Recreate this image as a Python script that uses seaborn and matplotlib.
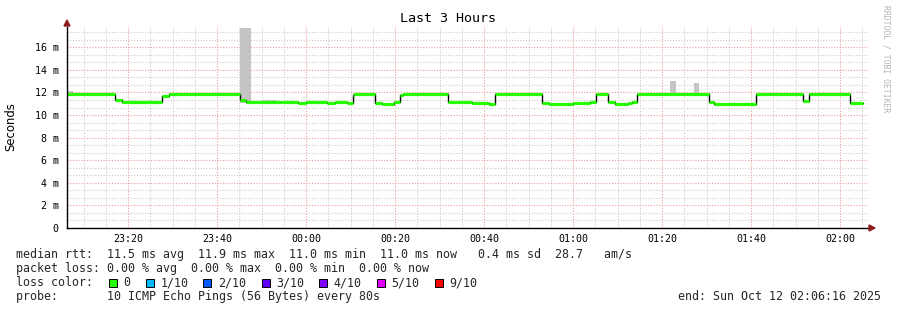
import numpy as np
import pandas as pd
import matplotlib
matplotlib.use("Agg")
import matplotlib.pyplot as plt
import seaborn as sns
from matplotlib.ticker import MultipleLocator, FixedLocator, FuncFormatter
from matplotlib.patches import Polygon, Rectangle

# ---------------- data ----------------
start_time = "2025-10-11 23:06:16"
end_time = "2025-10-12 02:06:16"

# median rtt steps: start minute (from start_time) and value (ms)
seg_start = [0.0, 10.8, 12.3, 20.0, 21.3, 23.0, 38.9, 40.3, 43.0, 45.2, 46.6, 47.9,
             50.6, 52.0, 53.6, 56.3, 58.5, 60.3, 63.0, 64.2, 64.6, 69.3, 70.8, 73.4,
             74.8, 75.5, 85.6, 88.0, 90.9, 94.8, 96.2, 96.8, 106.8, 108.3, 113.7, 117.6,
             118.9, 119.6, 121.6, 123.1, 126.0, 127.0, 128.2, 129.0, 144.2, 145.4, 154.9,
             156.4, 165.3, 166.8, 167.4, 176.0]
seg_value = [11.9, 11.33, 11.15, 11.12, 11.66, 11.9, 11.3, 11.12, 11.2, 11.14, 11.2, 11.16,
             11.12, 11.05, 11.2, 11.14, 11.05, 11.2, 11.1, 11.8, 11.9, 11.08, 11.0, 11.12,
             11.8, 11.9, 11.12, 11.17, 11.08, 11.0, 11.85, 11.9, 11.08, 11.01, 11.08, 11.12,
             11.85, 11.9, 11.17, 11.0, 11.04, 11.12, 11.85, 11.9, 11.17, 11.0, 11.85,
             11.9, 11.22, 11.85, 11.9, 11.05]
data_end = 178.8

# smoke (spread of pings) segments
smoke_t0 = [0.0, 18.0, 38.9, 44.0, 135.6, 140.8]
smoke_t1 = [1.4, 21.3, 41.3, 47.0, 136.8, 142.1]
smoke_lo = [11.8, 11.0, 11.1, 11.1, 11.8, 11.8]
smoke_hi = [12.15, 11.15, 17.75, 11.35, 13.0, 12.85]

tick_labels = ["23:20", "23:40", "00:00", "00:20", "00:40", "01:00", "01:20", "01:40", "02:00"]
ytick_values = [0, 2, 4, 6, 8, 10, 12, 14, 16]

stats_line1 = "median rtt:  11.5 ms avg  11.9 ms max  11.0 ms min  11.0 ms now   0.4 ms sd  28.7   am/s"
stats_line2 = "packet loss: 0.00 % avg  0.00 % max  0.00 % min  0.00 % now"
loss_labels = ["0", "1/10", "2/10", "3/10", "4/10", "5/10", "9/10"]
loss_colors = ["#26ff00", "#00b8ff", "#0059ff", "#5e00ff", "#7e00ff", "#dd00ff", "#ff0000"]
probe_line = "probe:       10 ICMP Echo Pings (56 Bytes) every 80s"
end_line = "end: Sun Oct 12 02:06:16 2025"

# ---------------- figure ----------------
W, H = 897, 310
sns.set_style("white")
plt.rcParams["font.family"] = ["DejaVu Sans Mono", "DejaVu Sans"]

fig = plt.figure(figsize=(W / 100, H / 100), dpi=100)
fig.patch.set_facecolor("white")

def fx(x):
    return x / W

def fy(y):
    return 1 - y / H

L, R, T, B = 67, 868, 27, 228
ax = fig.add_axes([fx(L), fy(B), (R - L) / W, (B - T) / H])
ax.set_facecolor("white")

t0 = pd.Timestamp(start_time)
span = (pd.Timestamp(end_time) - t0).total_seconds() / 60.0

# smoke
for a, b, lo, hi in zip(smoke_t0, smoke_t1, smoke_lo, smoke_hi):
    ax.fill_between([a, b], [lo, lo], [hi, hi], color="#c4c4c4", lw=0, zorder=2)

# median: black step line + green horizontal segments
df = pd.DataFrame({"t": seg_start + [data_end], "v": seg_value + [seg_value[-1]]})
sns.lineplot(data=df, x="t", y="v", drawstyle="steps-post", color="black", lw=1.0,
             ax=ax, zorder=3, estimator=None, sort=False)
seg_end = seg_start[1:] + [data_end]
ax.hlines(seg_value, seg_start, seg_end, colors=loss_colors[0], lw=2.3, zorder=4)

ax.set_xlim(0, span)
ax.set_ylim(0, 17.8)
ax.set_xlabel("")
ax.set_ylabel("")

# ticks
def label_minutes(lbl):
    hh, mm = map(int, lbl.split(":"))
    day = "2025-10-11" if hh >= 12 else "2025-10-12"
    return (pd.Timestamp(f"{day} {hh:02d}:{mm:02d}:00") - t0).total_seconds() / 60.0

major_x = [label_minutes(l) for l in tick_labels]
minor_x = np.arange(major_x[0] - 10, span, 5.0)
minor_x = minor_x[minor_x > 0]
ax.xaxis.set_major_locator(FixedLocator(major_x))
ax.set_xticklabels(tick_labels)
ax.xaxis.set_minor_locator(FixedLocator(minor_x))
ax.yaxis.set_major_locator(FixedLocator(ytick_values))
ax.yaxis.set_minor_locator(MultipleLocator(2 / 3))
ax.yaxis.set_major_formatter(FuncFormatter(lambda v, p: "0" if v == 0 else f"{v:.0f} m"))

ax.tick_params(axis="both", which="major", length=2, width=1, color="black",
               labelsize=7.2, labelcolor="black")
ax.tick_params(axis="x", which="major", pad=2.5)
ax.tick_params(axis="y", which="major", pad=4)
ax.tick_params(axis="both", which="minor", length=1, width=0.8, color="black")

ax.grid(which="minor", axis="both", color="#cccccc", ls=(0, (1, 1.5)), lw=0.8)
ax.grid(which="major", axis="both", color="#f09a9a", ls=(0, (1, 1.5)), lw=0.8)
ax.set_axisbelow(True)

for s in ["top", "right"]:
    ax.spines[s].set_visible(False)
for s in ["left", "bottom"]:
    ax.spines[s].set_visible(True)
    ax.spines[s].set_color("black")
    ax.spines[s].set_linewidth(1.0)
    ax.spines[s].set_zorder(5)

# axis arrows
arrow_col = "#8e1c1c"
fig.patches.append(Polygon([(fx(64), fy(26)), (fx(70), fy(26)), (fx(67), fy(20))],
                           closed=True, color=arrow_col, transform=fig.transFigure))
fig.patches.append(Polygon([(fx(869), fy(225)), (fx(869), fy(231)), (fx(875), fy(228))],
                           closed=True, color=arrow_col, transform=fig.transFigure))

# titles
fig.text(fx(448), fy(19), "Last 3 Hours", ha="center", va="center", fontsize=9.6, color="black")
fig.text(fx(11), fy(127), "Seconds", rotation=90, ha="center", va="center", fontsize=8.4,
         family=["DejaVu Sans"], color="black")
fig.text(fx(886), fy(59), "RRDTOOL / TOBI OETIKER", rotation=270, ha="center", va="center",
         fontsize=5.8, color="#b4b4b4")

# legend / stats
fs = 8.4
fig.text(fx(16), fy(254.5), stats_line1, ha="left", va="center", fontsize=fs)
fig.text(fx(16), fy(268.5), stats_line2, ha="left", va="center", fontsize=fs)
fig.text(fx(16), fy(282.5), "loss color:", ha="left", va="center", fontsize=fs)
box_x = [108.7, 145.7, 203.3, 261.7, 319.3, 376.7, 435.0]
for bx, lbl, col in zip(box_x, loss_labels, loss_colors):
    fig.patches.append(Rectangle((fx(bx), fy(287)), 8 / W, 8 / H, facecolor=col,
                                 edgecolor="black", lw=0.7, transform=fig.transFigure))
    fig.text(fx(bx + 14.5), fy(282.5), lbl, ha="left", va="center", fontsize=fs)
fig.text(fx(16), fy(296.5), probe_line, ha="left", va="center", fontsize=fs)
fig.text(fx(881), fy(296.5), end_line, ha="right", va="center", fontsize=fs)

fig.savefig("out.png", dpi=100, facecolor="white")
